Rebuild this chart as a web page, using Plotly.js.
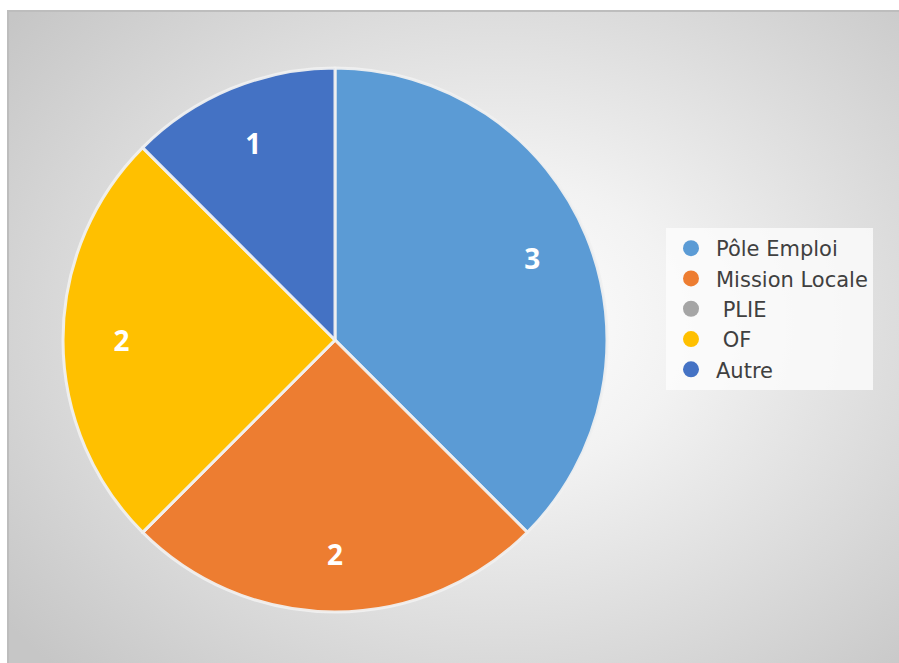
<!DOCTYPE html>
<html>
<head>
<meta charset="utf-8">
<script src="https://cdn.plot.ly/plotly-3.0.1.min.js"></script>
<style>
  html, body { margin: 0; padding: 0; background: #ffffff; }
  #wrap { position: relative; width: 899px; height: 663px; overflow: hidden; }
  #bg { position: absolute; left: 7px; top: 10px; width: 892px; height: 653px;
        background: radial-gradient(ellipse 70% 75% at 55% 48%, #ffffff 0%, #f2f2f2 30%, #dcdcdc 65%, #c6c6c6 100%);
        border-top: 2px solid #bdbdbd; border-left: 2px solid #bdbdbd; box-sizing: border-box; }
  #chart { position: absolute; left: 0; top: 0; width: 899px; height: 663px; }
</style>
</head>
<body>
<div id="wrap">
  <div id="bg"></div>
  <div id="chart"></div>
</div>
<script>
const labels = ['Pôle Emploi', 'Mission Locale', 'PLIE', 'OF', 'Autre'];
const legendNames = ['Pôle Emploi', 'Mission Locale', ' PLIE', ' OF', 'Autre'];
const values = [3, 2, 0, 2, 1];
const colors = ['#5B9BD5', '#ED7D31', '#A5A5A5', '#FFC000', '#4472C4'];

const dom = { x: [63/899, 607/899], y: [51/663, 595/663] };

// filled slices
const pie = {
  type: 'pie',
  labels: labels,
  values: values,
  sort: false,
  direction: 'clockwise',
  rotation: 0,
  marker: { colors: colors, line: { color: 'rgba(240,240,240,0.95)', width: 3 } },
  textinfo: 'none',
  showlegend: false,
  hoverinfo: 'label+value',
  domain: dom
};

// value labels, placed in the outer ring of the same slices
const pieLabels = {
  type: 'pie',
  labels: labels,
  values: values,
  sort: false,
  direction: 'clockwise',
  rotation: 0,
  hole: 0.57,
  marker: { colors: colors.map(() => 'rgba(0,0,0,0)'), line: { width: 0 } },
  texttemplate: values.map(v => v ? '%{value}' : ''),
  textposition: 'inside',
  insidetextorientation: 'horizontal',
  insidetextfont: { family: 'Open Sans, sans-serif', size: 28, color: '#ffffff', weight: 'bold' },
  showlegend: false,
  hoverinfo: 'skip',
  domain: dom
};

const legendTraces = labels.map((lab, i) => ({
  type: 'scatter',
  mode: 'markers',
  x: [null], y: [null],
  name: legendNames[i],
  marker: { color: colors[i], size: 16, symbol: 'circle' },
  showlegend: true,
  hoverinfo: 'skip'
}));

const layout = {
  width: 899, height: 663,
  margin: { l: 0, r: 0, t: 0, b: 0 },
  paper_bgcolor: 'rgba(0,0,0,0)',
  plot_bgcolor: 'rgba(0,0,0,0)',
  xaxis: { visible: false },
  yaxis: { visible: false },
  showlegend: true,
  legend: {
    x: 666/899, xanchor: 'left',
    y: (663-228)/663, yanchor: 'top',
    bgcolor: 'rgba(252,252,252,0.8)',
    font: { family: 'DejaVu Sans, sans-serif', size: 21, color: '#404040' },
    itemwidth: 40,
    tracegroupgap: 0,
    itemsizing: 'trace'
  }
};

Plotly.newPlot('chart', [pie, pieLabels].concat(legendTraces), layout, { displayModeBar: false, staticPlot: true });
</script>
</body>
</html>
